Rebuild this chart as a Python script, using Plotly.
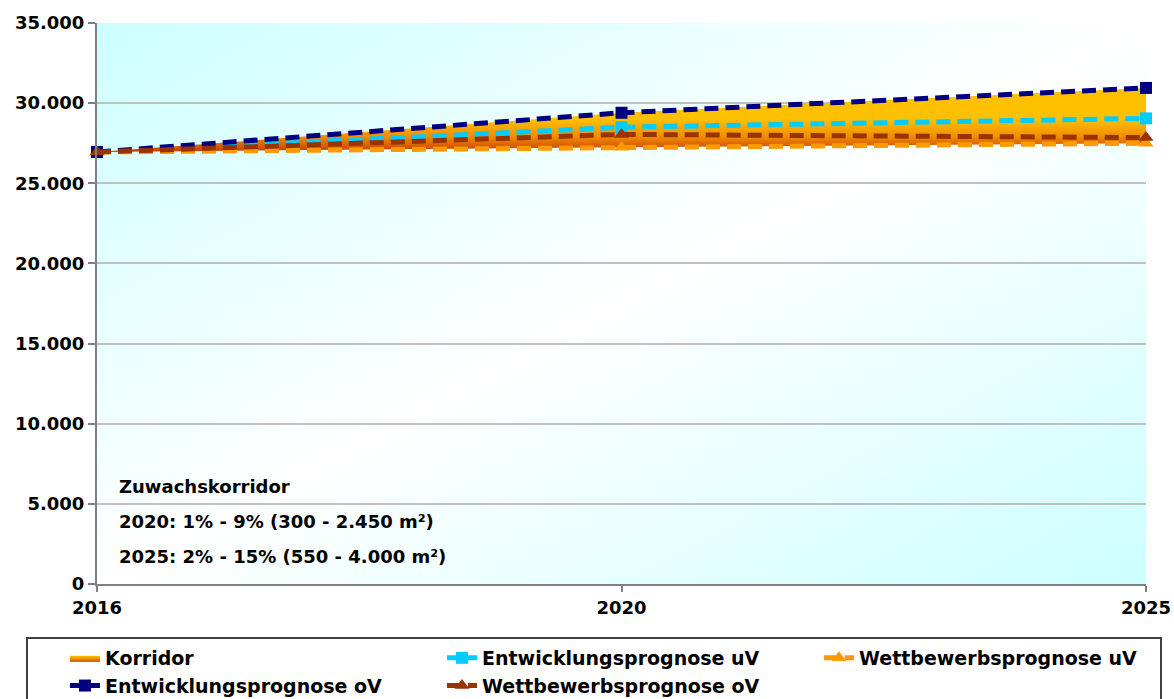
import base64
import plotly.graph_objects as go

# ---- data ----
years = ["2016", "2020", "2025"]
entw_oV = [26950, 29400, 30950]   # Entwicklungsprognose oV
entw_uV = [26950, 28500, 29050]   # Entwicklungsprognose uV
wett_oV = [26950, 28050, 27850]   # Wettbewerbsprognose oV
wett_uV = [26950, 27250, 27500]   # Wettbewerbsprognose uV
y_ticks = [0, 5000, 10000, 15000, 20000, 25000, 30000, 35000]
notes = ["Zuwachskorridor",
         "2020: 1% - 9% (300 - 2.450 m²)",
         "2025: 2% - 15% (550 - 4.000 m²)"]

FONT = "DejaVu Sans"

fig = go.Figure()

# corridor base (invisible)
fig.add_trace(go.Scatter(x=years, y=wett_uV, mode="lines", line=dict(width=0, color="rgba(0,0,0,0)"),
                         showlegend=False, hoverinfo="skip"))
# corridor fill
fig.add_trace(go.Scatter(
    x=years, y=entw_oV, mode="lines", name="Korridor", line=dict(width=0, color="#FFC000"),
    fill="tonexty", fillcolor="#FFC000",
    fillgradient=dict(type="vertical", start=27000, stop=29000,
                      colorscale=[[0, "#C84000"], [0.45, "#F08C00"], [1, "#FFC000"]]),
    legendrank=1))

dash = "14px,7px"
series = [
    (wett_uV, "Wettbewerbsprognose uV", "#FF9900", "triangle-up", 13, 3),
    (entw_uV, "Entwicklungsprognose uV", "#00CCFF", "square", 12, 2),
    (entw_oV, "Entwicklungsprognose oV", "#000080", "square", 12, 4),
    (wett_oV, "Wettbewerbsprognose oV", "#993300", "triangle-up", 13, 5),
]
for vals, name, col, sym, sz, rank in series:
    fig.add_trace(go.Scatter(x=years, y=vals, mode="lines+markers", name=name,
                             line=dict(color=col, width=5, dash=dash),
                             marker=dict(symbol=sym, size=sz, color=col),
                             cliponaxis=False, legendrank=rank))

# background gradient
svg = ('<svg xmlns="http://www.w3.org/2000/svg" width="100" height="100" viewBox="0 0 100 100" '
       'preserveAspectRatio="none"><defs><linearGradient id="g" x1="0" y1="0" x2="1" y2="1">'
       '<stop offset="0" stop-color="#CCFFFF"/><stop offset="0.5" stop-color="#FFFFFF"/>'
       '<stop offset="1" stop-color="#CCFFFF"/></linearGradient></defs>'
       '<rect width="100" height="100" fill="url(#g)"/></svg>')
src = "data:image/svg+xml;base64," + base64.b64encode(svg.encode()).decode()

W, H = 1174, 699
L, R, T, B = 97, 28, 23, 115
pw, ph = W - L - R, H - T - B

def px2x(px):
    return (px - L) / pw

def py2y(py):
    return (H - B - py) / ph

ann = []
for txt, py in zip(notes, [486, 521, 556]):
    ann.append(dict(text=txt, xref="paper", yref="paper", x=px2x(117), y=py2y(py),
                    xanchor="left", yanchor="middle", showarrow=False,
                    font=dict(family=FONT, size=18, color="black", weight="bold")))

fig.update_layout(
    width=W, height=H,
    margin=dict(l=L, r=R, t=T, b=B, autoexpand=False),
    paper_bgcolor="white", plot_bgcolor="rgba(0,0,0,0)",
    separators=",.",
    font=dict(family=FONT, size=18, color="black", weight="bold"),
    images=[dict(source=src, xref="paper", yref="paper", x=0, y=1, sizex=1, sizey=1,
                 sizing="stretch", layer="below", xanchor="left", yanchor="top")],
    xaxis=dict(type="category", range=[0, 2], showgrid=False, showline=True, linecolor="#808080",
               linewidth=2, ticks="outside", ticklen=6, tickcolor="#808080", tickwidth=2,
               tickfont=dict(family=FONT, size=18, weight="bold")),
    yaxis=dict(range=[0, 35000], tickvals=y_ticks, tickformat=",.0f", showgrid=True,
               gridcolor="#C0C0C0", gridwidth=1.5, showline=True, linecolor="#808080", linewidth=2,
               ticks="outside", ticklen=7, tickcolor="#808080", tickwidth=1.5, zeroline=False,
               tickfont=dict(family=FONT, size=18, weight="bold")),
    showlegend=True,
    legend=dict(orientation="h", x=px2x(65), y=py2y(639), xanchor="left", yanchor="top",
                entrywidth=332, entrywidthmode="pixels", bgcolor="rgba(0,0,0,0)",
                font=dict(family=FONT, size=19, weight="bold"), traceorder="normal"),
    shapes=[dict(type="rect", xref="paper", yref="paper", x0=px2x(27), x1=px2x(1161),
                 y0=py2y(638), y1=py2y(720), line=dict(color="#404040", width=2), layer="above")],
    annotations=ann,
)

fig.write_html("out.html", config={"displayModeBar": False},
               post_script="document.body.style.margin='0px';document.body.style.overflow='hidden';")
